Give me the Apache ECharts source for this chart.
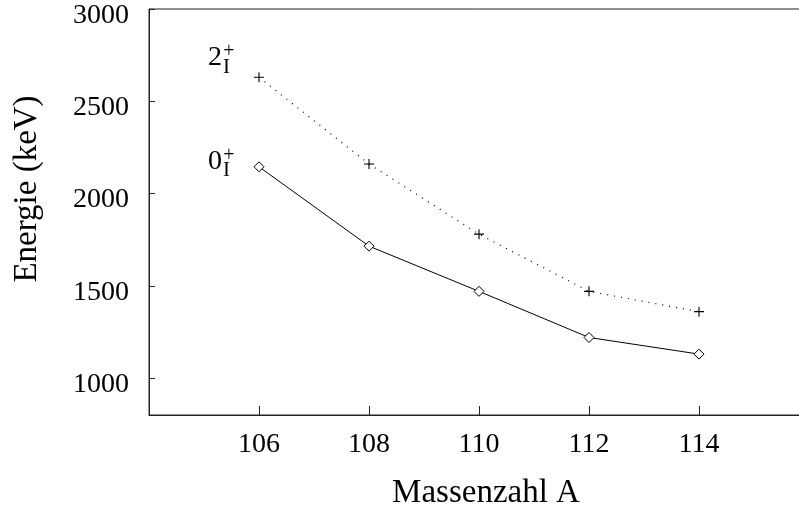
<!DOCTYPE html>
<html>
<head>
<meta charset="utf-8">
<script src="https://cdn.jsdelivr.net/npm/echarts@6/dist/echarts.min.js"></script>
<style>
  html, body { margin: 0; padding: 0; background: #fff; }
  #chart { width: 799px; height: 511px; }
</style>
</head>
<body>
<div id="chart"></div>
<script>
// Mass numbers of the isotopes
const massNumbers = [106, 108, 110, 112, 114];
// Excitation energies (keV) of the first excited 2+ and 0+ states
const energy2plus = [2630, 2160, 1780, 1470, 1360];
const energy0plus = [2145, 1715, 1470, 1220, 1130];
// Tick labels
const xTicks = [106, 108, 110, 112, 114];
const yTicks = [1000, 1500, 2000, 2500, 3000];

const FONT = '"Liberation Serif", "DejaVu Serif", serif';
const INK = '#000';
const AXIS = '#222';

const chart = echarts.init(document.getElementById('chart'), null, { renderer: 'canvas' });

const pairs = (xs, ys) => xs.map((x, i) => [x, ys[i]]);

chart.setOption({
  animation: false,
  backgroundColor: '#fff',
  grid: {
    left: 149, top: 9, width: 660, height: 406,
    containLabel: false, outerBoundsMode: 'none',
    show: true, borderColor: AXIS, borderWidth: 1, backgroundColor: 'transparent'
  },
  xAxis: {
    type: 'value', min: 104, max: 116,
    axisLine: { show: true, lineStyle: { color: AXIS, width: 1 } },
    axisTick: { show: true, inside: true, length: 9, customValues: xTicks, lineStyle: { color: AXIS } },
    axisLabel: { customValues: xTicks, margin: 16, color: INK, fontFamily: FONT, fontSize: 28, formatter: v => String(v) },
    splitLine: { show: false },
    name: 'Massenzahl A', nameLocation: 'middle', nameGap: 62,
    nameTextStyle: { color: INK, fontFamily: FONT, fontSize: 33, padding: [0, 0, 0, 14] }
  },
  yAxis: {
    type: 'value', min: 800, max: 3000,
    axisLine: { show: true, lineStyle: { color: AXIS, width: 1 } },
    axisTick: { show: true, inside: true, length: 6, customValues: yTicks, lineStyle: { color: AXIS } },
    axisLabel: {
      customValues: yTicks, margin: 20, color: INK, fontFamily: FONT, fontSize: 28,
      verticalAlign: 'top', lineHeight: 13, formatter: v => String(v)
    },
    splitLine: { show: false }
  },
  series: [
    {
      name: '2+',
      type: 'line',
      data: pairs(massNumbers, energy2plus),
      symbol: 'path://M0,5L10,5M5,0L5,10',
      symbolSize: 10,
      itemStyle: { color: INK, borderColor: INK, borderWidth: 1.1 },
      lineStyle: { color: INK, width: 1.2, type: [1, 6] }
    },
    {
      name: '0+',
      type: 'line',
      data: pairs(massNumbers, energy0plus),
      symbol: 'diamond',
      symbolSize: 10,
      itemStyle: { color: '#fff', borderColor: INK, borderWidth: 1 },
      lineStyle: { color: INK, width: 1 },
      z: 3
    }
  ]
});

// State labels: base digit with a "+" superscript and an "I" subscript,
// anchored in data coordinates to the left of the first point of each curve.
const stateLabels = [
  { base: '2', at: [105.2, 2734] },
  { base: '0', at: [105.2, 2174] }
];
const graphics = stateLabels.map(l => {
  const p = chart.convertToPixel({ gridIndex: 0 }, l.at);
  return {
    type: 'group', x: p[0], y: p[1],
    children: [
      { type: 'text', x: 0, y: 0, style: { text: l.base, font: '28px ' + FONT, fill: INK, align: 'center', verticalAlign: 'middle' } },
      { type: 'text', x: 14, y: -6, style: { text: '+', font: '20px ' + FONT, fill: INK, align: 'center', verticalAlign: 'middle' } },
      { type: 'text', x: 11.5, y: 9, style: { text: 'I', font: '21px ' + FONT, fill: INK, align: 'center', verticalAlign: 'middle' } }
    ]
  };
});
graphics.push({
  type: 'text', x: 27, y: 189, rotation: Math.PI / 2,
  style: { text: 'Energie (keV)', font: '33px ' + FONT, fill: INK, align: 'center', verticalAlign: 'middle' }
});
chart.setOption({ graphic: graphics });
</script>
</body>
</html>
